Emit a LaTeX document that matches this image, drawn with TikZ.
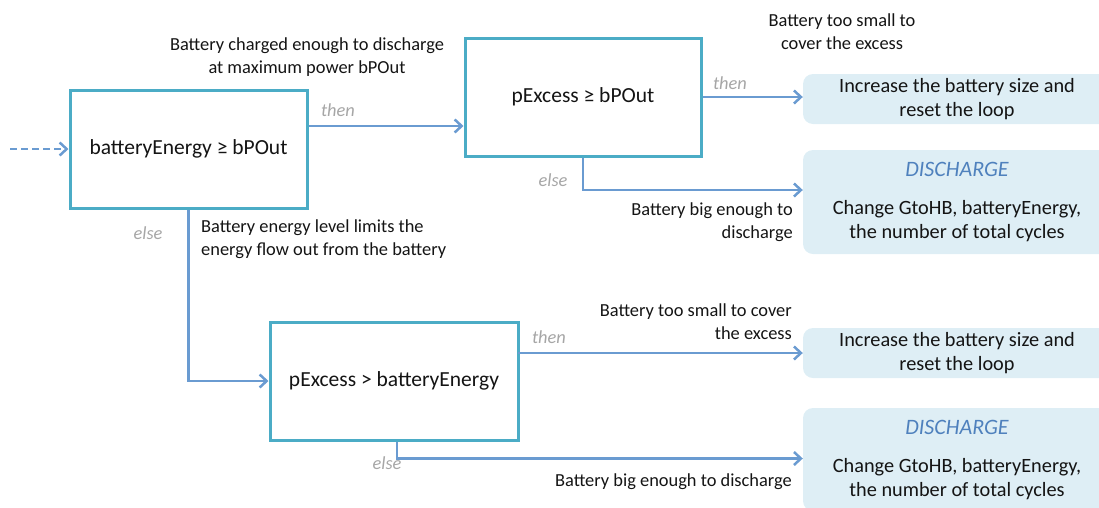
\documentclass[tikz,border=0pt]{standalone}
\usepackage{fontspec}
\setmainfont{Carlito}
\usetikzlibrary{arrows.meta}
\definecolor{boxline}{HTML}{4BACC6}
\definecolor{arrline}{HTML}{6A9BD1}
\definecolor{resfill}{HTML}{DEEEF5}
\definecolor{dischblue}{HTML}{4F81BD}
\definecolor{condgray}{HTML}{A6A6A6}
\definecolor{txt}{HTML}{141414}

\begin{document}
\begin{tikzpicture}[x=1pt, y=-1pt,
    box/.style={draw=boxline, line width=3pt, fill=white, minimum height=118pt, inner sep=0pt, align=center, font=\fontsize{21.5}{25}\selectfont, text=txt},
    res/.style={fill=resfill, rounded corners=10pt, minimum width=308pt, inner sep=0pt, align=center, font=\fontsize{20.3}{24}\selectfont, text=txt},
    lbl/.style={inner sep=0pt, font=\fontsize{18.4}{23}\selectfont, text=txt},
    cond/.style={inner sep=0pt, font=\fontsize{18.4}{22}\selectfont\itshape, text=condgray},
    arr/.style={draw=arrline, line width=2.5pt, -{Straight Barb[length=7pt, width=13pt]}}
]
\useasboundingbox (0,0) rectangle (1099,507);

% decision boxes
\node[box, minimum width=237pt] (enough) at (188.5,149) {batteryEnergy ≥ bPOut};
\node[box, minimum width=236pt] (excess) at (583,97) {pExcess ≥ bPOut};
\node[box, minimum width=248pt] (excessE) at (394,381) {pExcess > batteryEnergy};

% outcomes
\node[res, minimum height=50pt] (growA) at (957,99) {Increase the battery size and\\reset the loop};
\node[res, minimum height=104pt] (dischA) at (957,202) {{\fontsize{22}{26}\selectfont\itshape\color{dischblue}DISCHARGE}\\[14pt]Change GtoHB, batteryEnergy,\\the number of total cycles};
\node[res, minimum height=50pt] (growB) at (957,353) {Increase the battery size and\\reset the loop};
\node[res, minimum height=103pt] (dischB) at (957,459.5) {{\fontsize{22}{26}\selectfont\itshape\color{dischblue}DISCHARGE}\\[14pt]Change GtoHB, batteryEnergy,\\the number of total cycles};

\coordinate (start) at (10,149);

% connectors
\draw[arr, dashed, dash pattern=on 7pt off 4pt] (start) -- (enough.west);
\draw[arr] ([yshift=23pt]enough.east) -- ([yshift=23pt]enough.east -| excess.west);
\draw[arr] (excess.east) -- (excess.east -| growA.west);
\draw[arr] (excess.south) |- ([yshift=12pt]dischA.west);
\draw[arr] (enough.south) |- (excessE.west);
\draw[arr] ([yshift=29pt]excessE.east) -- (excessE.east |- growB.west) -- (growB.west);
\draw[arr] ([xshift=3pt]excessE.south) |- ([yshift=1pt]dischB.west);

% then / else
\node[cond] (then1) at (338,110) {then};
\node[cond] (then2) at (730,83) {then};
\node[cond] (then3) at (549,337) {then};
\node[cond] (else1) at (148,233) {else};
\node[cond] (else2) at (553,180) {else};
\node[cond] (else3) at (387,463) {else};

% notes
\node[lbl, align=center] (noteA) at (307,57) {Battery charged enough to discharge\\at maximum power bPOut};
\node[lbl, align=center] (noteB) at (842,32) {Battery too small to\\cover the excess};
\node[lbl, align=right, anchor=east] (noteC) at (793,222) {Battery big enough to\\discharge};
\node[lbl, align=left, anchor=west] (noteD) at (201,239) {Battery energy level limits the\\energy flow out from the battery};
\node[lbl, align=right, anchor=east] (noteE) at (792,322) {Battery too small to cover\\the excess};
\node[lbl, anchor=east] (noteF) at (792,482) {Battery big enough to discharge};
\end{tikzpicture}
\end{document}
